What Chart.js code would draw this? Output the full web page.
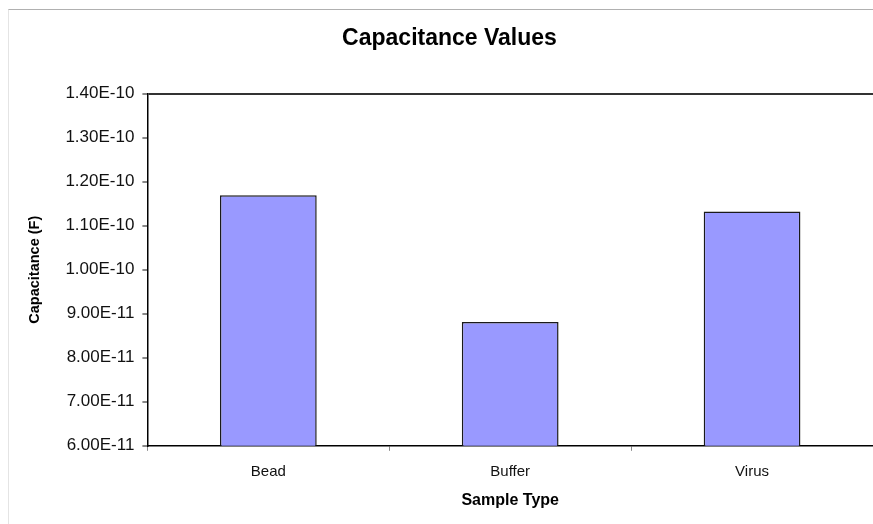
<!DOCTYPE html>
<html>
<head>
<meta charset="utf-8">
<script src="https://cdn.jsdelivr.net/npm/chart.js@4"></script>
<style>
  html, body { margin: 0; padding: 0; background: #fff; }
  #wrap { position: relative; width: 873px; height: 524px; }
  #frame { position: absolute; left: 8px; top: 9px; right: 0; bottom: 0;
           border-top: 1px solid #b0b0b0; border-left: 1px solid #e4e4e4; }
  #myChart { position: absolute; left: 0; top: 0; }
</style>
</head>
<body>
<div id="wrap">
  <div id="frame"></div>
  <canvas id="myChart" width="873" height="524"></canvas>
</div>
<script>
const categories = ['Bead', 'Buffer', 'Virus'];
const capacitance = [1.169e-10, 8.81e-11, 1.132e-10];
const yMin = 6e-11;
const yMax = 1.4e-10;
const yStep = 1e-11;

function draw(){
    const font = 'Arial, "Liberation Sans", sans-serif';

    const data = {
        labels: categories,
        datasets: [
            {
                label: 'Capacitance',
                data: capacitance,
                backgroundColor: '#9999ff',
                borderColor: '#1a1a1a',
                borderWidth: 1.5,
                borderSkipped: 'bottom',
                barPercentage: 0.8,
                categoryPercentage: 0.5
            }
        ]
    };

    const config = {
        type: 'bar',
        data: data,
        options: {
            responsive: false,
            animation: false,
            layout: { padding: { left: 26, right: 0, top: 0, bottom: 14 } },
            plugins: {
                legend: { display: false },
                tooltip: { enabled: false },
                title: {
                    display: true,
                    text: 'Capacitance Values',
                    color: '#000',
                    font: { family: font, size: 23, weight: 'bold' },
                    padding: { top: 25, bottom: 41 }
                }
            },
            scales: {
                x: {
                    grid: {
                        drawOnChartArea: false,
                        tickColor: '#888',
                        tickLength: 5
                    },
                    border: { color: '#000', width: 1.5 },
                    ticks: {
                        color: '#111',
                        font: { family: font, size: 15 },
                        padding: 12
                    },
                    title: {
                        display: true,
                        text: 'Sample Type',
                        color: '#000',
                        font: { family: font, size: 16, weight: 'bold' },
                        padding: { top: -2, bottom: 0 }
                    }
                },
                y: {
                    min: yMin,
                    max: yMax,
                    grid: {
                        color: ctx => (ctx.tick && Math.abs(ctx.tick.value - yMax) < 1e-13) ? '#333' : 'rgba(0,0,0,0)',
                        lineWidth: 2,
                        tickColor: '#888',
                        tickLength: 5
                    },
                    border: { color: '#000', width: 1.5 },
                    ticks: {
                        stepSize: yStep,
                        color: '#111',
                        font: { family: font, size: 17 },
                        padding: 8,
                        callback: v => v.toExponential(2).toUpperCase()
                    },
                    title: {
                        display: true,
                        text: 'Capacitance (F)',
                        color: '#000',
                        font: { family: font, size: 14.5, weight: 'bold' },
                        padding: { top: 0, bottom: 14 }
                    }
                }
            }
        }
    };

    const myChart = new Chart(document.getElementById('myChart'), config);
}
draw();
</script>
</body>
</html>
